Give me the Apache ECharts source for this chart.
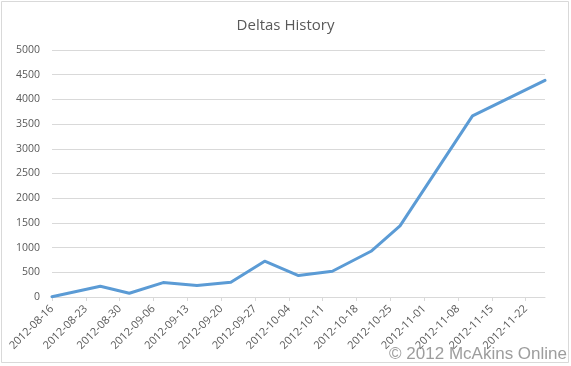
<!DOCTYPE html>
<html>
<head>
<meta charset="utf-8">
<script src="https://cdn.jsdelivr.net/npm/echarts@6/dist/echarts.min.js"></script>
<style>html,body{margin:0;padding:0;background:#fff}#c{width:571px;height:366px}</style>
</head>
<body>
<div id="c"></div>
<script>
const title = 'Deltas History';
const startDate = '2012-08-16';
const endDate = '2012-11-26';
const tickDates = ['2012-08-16','2012-08-23','2012-08-30','2012-09-06','2012-09-13','2012-09-20','2012-09-27','2012-10-04','2012-10-11','2012-10-18','2012-10-25','2012-11-01','2012-11-08','2012-11-15','2012-11-22'];
const pointDates = ['2012-08-16','2012-08-26','2012-09-01','2012-09-08','2012-09-15','2012-09-22','2012-09-29','2012-10-06','2012-10-13','2012-10-21','2012-10-27','2012-11-11','2012-11-26'];
const deltas = [5, 217, 75, 292, 231, 298, 724, 434, 521, 926, 1440, 3665, 4385];
const yTicks = [0,500,1000,1500,2000,2500,3000,3500,4000,4500,5000];
const credit = '\u00a9 2012 McAkins Online';

const DAY = 86400000;
const t0 = Date.parse(startDate + 'T00:00:00Z');
const dayOf = s => Math.round((Date.parse(s + 'T00:00:00Z') - t0) / DAY);
const dateOf = d => new Date(t0 + d * DAY).toISOString().slice(0, 10);
const tickDays = tickDates.map(dayOf);

const chart = echarts.init(document.getElementById('c'));
chart.setOption({
  animation: false,
  backgroundColor: '#ffffff',
  title: {
    text: title, left: 'center', top: 13,
    textStyle: { fontFamily: 'Open Sans', fontSize: 15, fontWeight: 'normal', color: '#595959' }
  },
  grid: { left: 52, right: 26, top: 50, bottom: 69 },
  xAxis: {
    type: 'value', min: 0, max: dayOf(endDate),
    splitLine: { show: false },
    axisLine: { show: true, lineStyle: { color: '#d9d9d9', width: 1 } },
    axisTick: { show: true, customValues: tickDays, length: 4, lineStyle: { color: '#d9d9d9' } },
    axisLabel: {
      customValues: tickDays, rotate: 45, margin: 10,
      fontFamily: 'Open Sans', fontSize: 11, color: '#595959',
      formatter: v => dateOf(v)
    }
  },
  yAxis: {
    type: 'value', min: yTicks[0], max: yTicks[yTicks.length - 1], interval: 500,
    axisLine: { show: false }, axisTick: { show: false },
    splitLine: { lineStyle: { color: '#d9d9d9', width: 1 } },
    axisLabel: { customValues: yTicks, margin: 12, fontFamily: 'Open Sans', fontSize: 10.5, color: '#595959', formatter: v => String(v) }
  },
  series: [{
    type: 'line',
    data: pointDates.map((d, i) => [dayOf(d), deltas[i]]),
    showSymbol: false, symbol: 'none',
    lineStyle: { color: '#5b9bd5', width: 3, cap: 'round', join: 'round' },
    itemStyle: { color: '#5b9bd5' }
  }],
  graphic: [
    { type: 'rect', shape: { x: 1.5, y: 1.5, width: 567, height: 361 }, style: { fill: 'none', stroke: '#d9d9d9', lineWidth: 1 }, silent: true },
    { type: 'text', right: 4, bottom: 3, style: { text: credit, font: '17px "Liberation Sans", Arial, sans-serif', fill: 'rgba(140,140,140,0.85)' }, z: 100 }
  ]
});
</script>
</body>
</html>
